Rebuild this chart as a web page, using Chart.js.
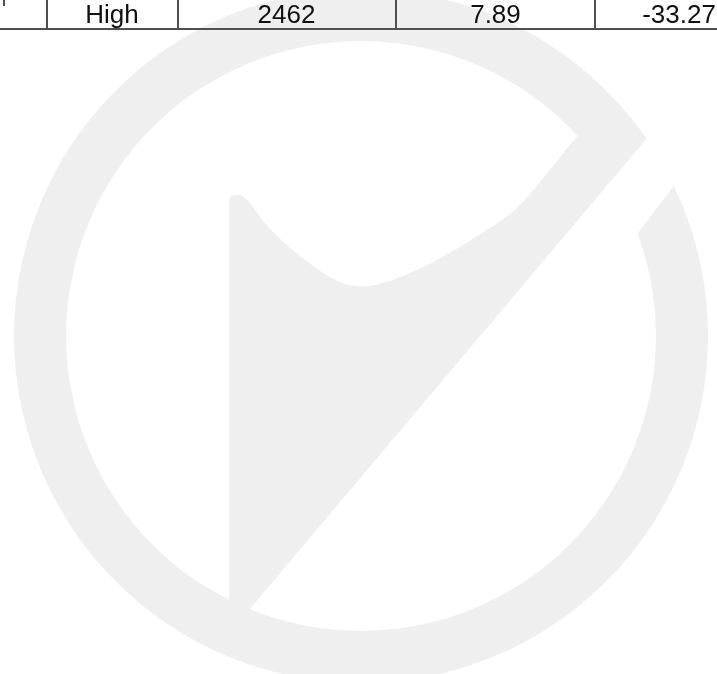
<!DOCTYPE html>
<html>
<head>
<meta charset="utf-8">
<script src="https://cdn.jsdelivr.net/npm/chart.js@4/dist/chart.umd.min.js"></script>
<style>
  body { margin:0; width:717px; height:674px; overflow:hidden; background:#fff; position:relative; }
  #wrap { position:absolute; left:0; top:-11px; width:717px; height:694px; }
  .cell { position:absolute; top:1px; height:26px; line-height:26px; font-family:"Liberation Sans", Arial, sans-serif; font-size:26px; color:#111; text-align:center; white-space:nowrap; }
  .vline { position:absolute; top:0; width:2px; height:30px; background:#505050; }
  .hline { position:absolute; left:0; top:28px; width:717px; height:2px; background:#505050; }
</style>
</head>
<body>
<div id="wrap"><canvas id="ring"></canvas></div>
<div id="row"></div>

<script>
// 📋 TABLE ROW (the only visible row)
const rowLabels = ["High"];
const rowValues = ["2462", "7.89", "-33.27"];

// ⭕ WATERMARK RING (one closed ring)
const ringLabels = ["ring"];
const ringValues = [100];

// build the table row
let row = document.getElementById("row");
let cells = rowLabels.concat(rowValues);
let centers = [112, 286.5, 495.5, 679];
let seps = [46, 177, 395, 594];

let html = '<div class="vline" style="left:3px;height:6px"></div>';
seps.forEach(x => { html += `<div class="vline" style="left:${x}px"></div>`; });
html += '<div class="hline"></div>';
cells.forEach((t, i) => {
  html += `<div class="cell" style="left:${centers[i] - 60}px;width:120px">${t}</div>`;
});
row.innerHTML = html;

// 🖌️ check mark + slit of the logo, drawn over the ring
const logoPlugin = {
  id: "logo",
  afterDatasetsDraw(chart) {
    let ctx = chart.ctx;
    ctx.save();
    ctx.translate(0, 11);

    // white slit that cuts the ring
    ctx.fillStyle = "#ffffff";
    ctx.beginPath();
    ctx.moveTo(600, 193.6);
    ctx.lineTo(660, 122.6);
    ctx.lineTo(685, 171);
    ctx.lineTo(626, 249);
    ctx.closePath();
    ctx.fill();

    // check shape
    let curve = [[247,198],[267,227],[300,257],[333,280],[357,288],[387,283],[433,263],[483,233],[517,210],[550,170],[578,134],[600,118]];
    ctx.fillStyle = "#efefef";
    ctx.beginPath();
    ctx.moveTo(229, 612);
    ctx.lineTo(229, 201);
    ctx.quadraticCurveTo(229, 195, 237, 195);
    ctx.lineTo(241, 195);
    for (let i = 0; i < curve.length - 1; i++) {
      let mx = (curve[i][0] + curve[i + 1][0]) / 2;
      let my = (curve[i][1] + curve[i + 1][1]) / 2;
      ctx.quadraticCurveTo(curve[i][0], curve[i][1], mx, my);
    }
    ctx.lineTo(600, 118);
    ctx.lineTo(642, 144);
    ctx.lineTo(249, 610);
    ctx.closePath();
    ctx.fill();
    ctx.restore();
  }
};

new Chart(document.getElementById("ring"), {
  type: "doughnut",
  data: {
    labels: ringLabels,
    datasets: [{
      data: ringValues,
      backgroundColor: ["#efefef"],
      borderWidth: 0
    }]
  },
  options: {
    responsive: true,
    maintainAspectRatio: false,
    animation: false,
    cutout: "85%",
    events: [],
    layout: { padding: { left: 14, right: 9, top: 0, bottom: 0 } },
    plugins: {
      legend: { display: false },
      tooltip: { enabled: false }
    }
  },
  plugins: [logoPlugin]
});
</script>
</body>
</html>
